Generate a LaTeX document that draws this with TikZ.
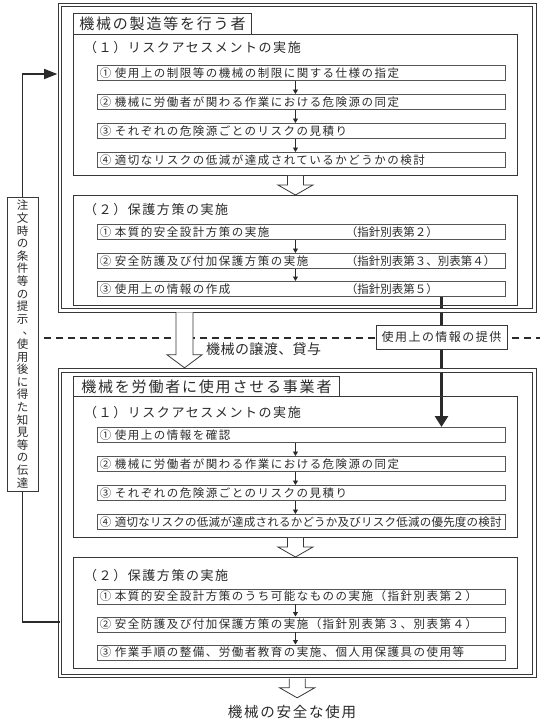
\documentclass[tikz,border=0pt]{standalone}
\usepackage{fontspec}
\setmainfont{Noto Sans CJK JP}
\newfontfamily\jpstep[LetterSpace=13]{Noto Sans CJK JP}
\newfontfamily\jptight[LetterSpace=2]{Noto Sans CJK JP}
\newfontfamily\jphead[LetterSpace=12]{Noto Sans CJK JP}
\newfontfamily\jpmid[LetterSpace=3]{Noto Sans CJK JP}
\usetikzlibrary{arrows.meta,calc,backgrounds}
\definecolor{ink}{HTML}{2B2B2B}
\definecolor{edge}{HTML}{383838}
\definecolor{stepedge}{HTML}{555555}
\newcommand\vcomma{\makebox[1em]{\hspace{0.5em}\raisebox{0.12em}{、}\hspace{-0.5em}}}
\begin{document}
\begin{tikzpicture}[x=1pt,y=-1pt,
  frame/.style={draw=edge, line width=0.8pt, double=white, double distance=2.6pt, inner sep=0pt, anchor=north west},
  panel/.style={draw=edge, line width=0.9pt, inner sep=0pt, anchor=north west},
  titlebox/.style={draw=edge, line width=0.9pt, inner sep=0pt, anchor=north west, text=ink, font=\jphead\fontsize{15}{16}\selectfont},
  heading/.style={anchor=west, inner sep=0pt, text=ink, font=\jphead\fontsize{13}{14}\selectfont},
  stepbox/.style={draw=stepedge, line width=0.75pt, anchor=north west, minimum width=408pt, minimum height=15pt, inner xsep=2.5pt, inner ysep=0pt, text width=403pt, align=left, text=ink, font=\jpstep\fontsize{11.5}{13}\selectfont},
  stepline/.style={draw=ink, line width=0.8pt, -{Triangle[length=4.5pt,width=5pt]}},
  hollow/.style={draw=edge, line width=0.8pt, fill=white},
  infoline/.style={draw=ink, line width=2.6pt, -{Triangle[length=11pt,width=13pt]}},
  dashline/.style={draw=ink, line width=1.1pt, dash pattern=on 7pt off 5pt},
  feedline/.style={draw=ink, line width=1.4pt},
  feedarrow/.style={feedline, -{Triangle[length=13pt,width=10pt]}},
  labelbox/.style={draw=edge, line width=0.8pt, fill=white, inner sep=0pt, align=center, text=ink},
  plain/.style={inner sep=0pt, text=ink}
]
\useasboundingbox (0,0) rectangle (540,720);

% ---------- upper section ----------
\node[frame, minimum width=474.5pt, minimum height=305.5pt] (upFrame) at (59.5,4.5) {};
\node[titlebox, minimum width=178pt, minimum height=21pt] (upTitle) at (73,13) {機械の製造等を行う者};
\node[panel, minimum width=444pt, minimum height=141pt] (upP1) at (73,34) {};
\node[heading] (upH1) at (84,48) {（１）リスクアセスメントの実施};
\node[stepbox] (u1a) at (97,65) {①\hspace{0.3em}使用上の制限等の機械の制限に関する仕様の指定};
\node[stepbox] (u1b) at (97,94) {②\hspace{0.3em}機械に労働者が関わる作業における危険源の同定};
\node[stepbox] (u1c) at (97,123) {③\hspace{0.3em}それぞれの危険源ごとのリスクの見積り};
\node[stepbox] (u1d) at (97,152) {④\hspace{0.3em}適切なリスクの低減が達成されているかどうかの検討};
\draw[stepline] (u1a.south -| upP1.south) -- (u1b.north -| upP1.south);
\draw[stepline] (u1b.south -| upP1.south) -- (u1c.north -| upP1.south);
\draw[stepline] (u1c.south -| upP1.south) -- (u1d.north -| upP1.south);

\node[panel, minimum width=444pt, minimum height=110pt] (upP2) at (73,195) {};
\node[heading] (upH2) at (84,210) {（２）保護方策の実施};
\node[stepbox] (u2a) at (97,224) {\makebox[246pt][l]{①\hspace{0.3em}本質的安全設計方策の実施}{\rmfamily（指針別表第２）}};
\node[stepbox] (u2b) at (97,253) {\makebox[246pt][l]{②\hspace{0.3em}安全防護及び付加保護方策の実施}{\rmfamily（指針別表第３、別表第４）}};
\node[stepbox] (u2c) at (97,281) {\makebox[246pt][l]{③\hspace{0.3em}使用上の情報の作成}{\rmfamily（指針別表第５）}};
\draw[stepline] (u2a.south -| upP2.south) -- (u2b.north -| upP2.south);
\draw[stepline] (u2b.south -| upP2.south) -- (u2c.north -| upP2.south);

\draw[hollow] ($(upP1.south)+(-8,0)$) -- ($(upP2.north)+(-8,-10)$) -- ($(upP2.north)+(-17.5,-10)$) -- (upP2.north) -- ($(upP2.north)+(17.5,-10)$) -- ($(upP2.north)+(8,-10)$) -- ($(upP1.south)+(8,0)$);

% ---------- lower section ----------
\node[frame, minimum width=474.5pt, minimum height=305.5pt] (loFrame) at (59.5,370) {};
\node[titlebox, minimum width=266pt, minimum height=20pt] (loTitle) at (73,376) {機械を労働者に使用させる事業者};
\node[panel, minimum width=444pt, minimum height=141pt] (loP1) at (73,396) {};
\node[heading] (loH1) at (84,413) {（１）リスクアセスメントの実施};
\node[stepbox] (l1a) at (97,427) {①\hspace{0.3em}使用上の情報を確認};
\node[stepbox] (l1b) at (97,456) {②\hspace{0.3em}機械に労働者が関わる作業における危険源の同定};
\node[stepbox] (l1c) at (97,485) {③\hspace{0.3em}それぞれの危険源ごとのリスクの見積り};
\node[stepbox] (l1d) at (97,514) {\jptight④\hspace{0.3em}適切なリスクの低減が達成されるかどうか及びリスク低減の優先度の検討};
\draw[stepline] (l1a.south -| loP1.south) -- (l1b.north -| loP1.south);
\draw[stepline] (l1b.south -| loP1.south) -- (l1c.north -| loP1.south);
\draw[stepline] (l1c.south -| loP1.south) -- (l1d.north -| loP1.south);

\node[panel, minimum width=444pt, minimum height=111pt] (loP2) at (73,557) {};
\node[heading] (loH2) at (84,576) {（２）保護方策の実施};
\node[stepbox] (l2a) at (97,588.5) {①\hspace{0.3em}本質的安全設計方策のうち可能なものの実施（指針別表第２）};
\node[stepbox] (l2b) at (97,616.5) {②\hspace{0.3em}安全防護及び付加保護方策の実施（指針別表第３、別表第４）};
\node[stepbox] (l2c) at (97,644.5) {③\hspace{0.3em}作業手順の整備、労働者教育の実施、個人用保護具の使用等};
\draw[stepline] (l2a.south -| loP2.south) -- (l2b.north -| loP2.south);
\draw[stepline] (l2b.south -| loP2.south) -- (l2c.north -| loP2.south);

\draw[hollow] ($(loP1.south)+(-8,0)$) -- ($(loP2.north)+(-8,-10)$) -- ($(loP2.north)+(-17.5,-10)$) -- (loP2.north) -- ($(loP2.north)+(17.5,-10)$) -- ($(loP2.north)+(8,-10)$) -- ($(loP1.south)+(8,0)$);

% ---------- between sections ----------
\node[labelbox, minimum width=131pt, minimum height=24pt, font=\jphead\fontsize{12}{13}\selectfont] (info) at (441.5,337) {使用上の情報の提供};
\coordinate (dashL) at (44,338);
\coordinate (dashR) at (540,338);
\coordinate (trTop) at (184.5,312.3);
\coordinate (trTip) at (184.5,367.8);
\draw[hollow] ($(trTop)+(-8.5,0)$) -- ($(trTip)+(-8.5,-13)$) -- ($(trTip)+(-17.5,-13)$) -- (trTip) -- ($(trTip)+(17.5,-13)$) -- ($(trTip)+(8.5,-13)$) -- ($(trTop)+(8.5,0)$);
\node[plain, anchor=west, font=\jpmid\fontsize{14}{15}\selectfont] (trText) at (206,349) {機械の譲渡、貸与};

% ---------- end ----------
\coordinate (endTop) at ($(loFrame.south)+(0,2.2)$);
\coordinate (endTip) at ($(loFrame.south)+(0,21.5)$);
\draw[hollow] ($(endTop)+(-8,0)$) -- ($(endTip)+(-8,-10)$) -- ($(endTip)+(-17.5,-10)$) -- (endTip) -- ($(endTip)+(17.5,-10)$) -- ($(endTip)+(8,-10)$) -- ($(endTop)+(8,0)$);
\node[plain, font=\jphead\fontsize{14.5}{15}\selectfont] (endText) at (292,712) {機械の安全な使用};

% ---------- feedback ----------
\node[labelbox, minimum width=31pt, minimum height=294pt, font=\fontsize{11.5}{12.6}\selectfont] (fb) at (22.5,344) {注\\文\\時\\の\\条\\件\\等\\の\\提\\示\\\vcomma\\使\\用\\後\\に\\得\\た\\知\\見\\等\\の\\伝\\達};
\coordinate (fbIn) at (57.2,74);
\coordinate (fbOut) at (59.5,622);
\draw[feedarrow] (fb.north) |- (fbIn);
\draw[feedline] (fb.south) |- (fbOut);

\begin{scope}[on background layer]
\fill[white] (0,0) rectangle (540,720);
\draw[dashline] (dashL) -- (dashR);
\draw[infoline] (u2c.south -| info.center) -- (l1a.north -| info.center);
\end{scope}
\end{tikzpicture}
\end{document}
